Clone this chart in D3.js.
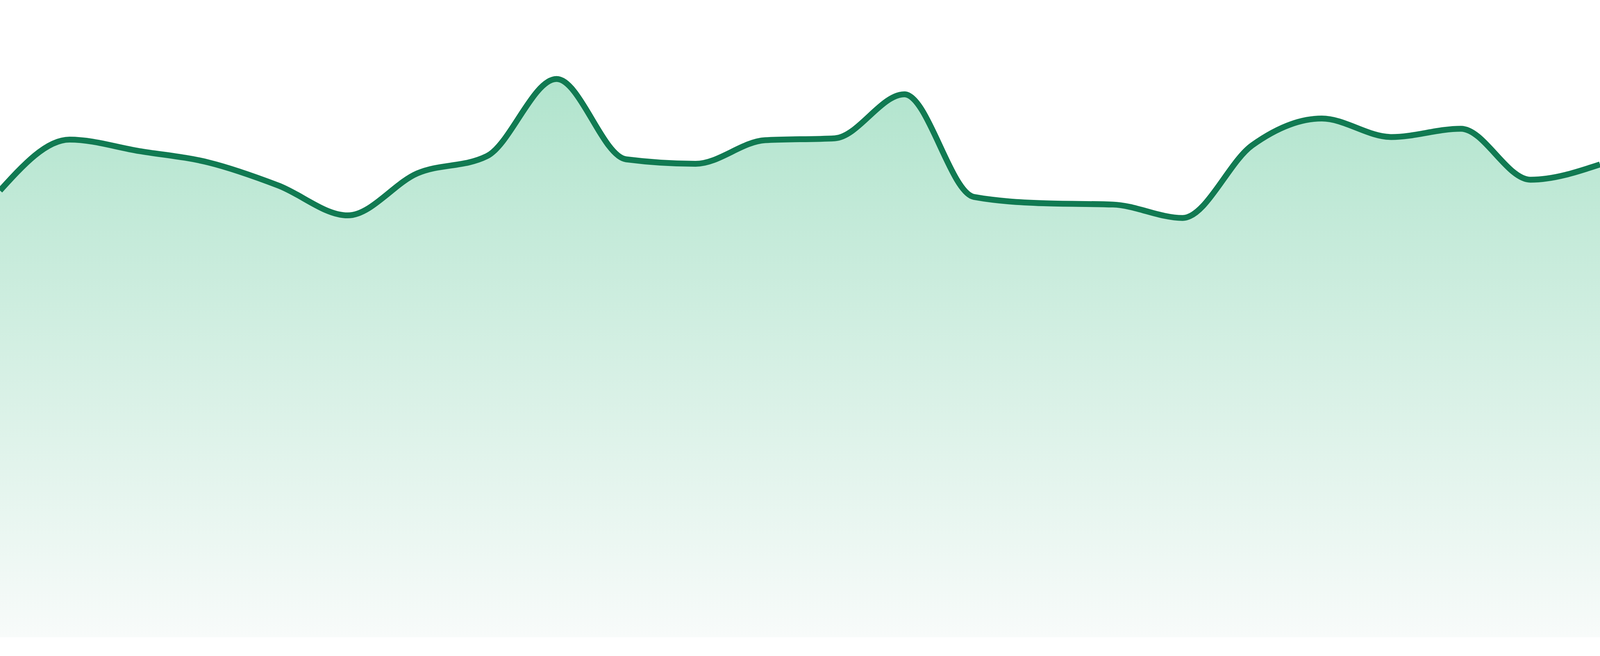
<!DOCTYPE html>
<html>
<head>
<meta charset="utf-8">
<script src="https://cdn.jsdelivr.net/npm/d3@7"></script>
<style>
  html, body { margin: 0; padding: 0; background: #ffffff; overflow: hidden; width: 100%; height: 100%; }
  svg { display: block; }
</style>
</head>
<body>
<svg id="chart"></svg>
<script>
// ---- data ----
const categories = ["1","2","3","4","5","6","7","8","9","10","11","12",
                    "13","14","15","16","17","18","19","20","21","22","23","24"];
const values = [70.1, 78.1, 76.3, 74.5, 70.9, 66.2, 72.8, 75.5, 87.6, 75.0, 74.3, 78.0,
                78.3, 85.2, 69.1, 68.1, 67.9, 65.8, 77.2, 81.4, 78.5, 79.8, 71.8, 74.2];
const yDomain = [0, 100];

// ---- layout (fills the viewport) ----
const W = window.innerWidth || 4800;
const H = window.innerHeight || 1680;
const bottom = H * (1632 / 1680);

const svg = d3.select("#chart").attr("width", W).attr("height", H);
const x = d3.scalePoint().domain(categories).range([0, W]);
const y = d3.scaleLinear().domain(yDomain).range([bottom, 0]);

const data = categories.map((c, i) => ({ c, v: values[i] }));

const defs = svg.append("defs");
const grad = defs.append("linearGradient")
  .attr("id", "fillGrad")
  .attr("gradientUnits", "userSpaceOnUse")
  .attr("x1", 0).attr("x2", 0)
  .attr("y1", y(d3.max(values))).attr("y2", bottom);
grad.append("stop").attr("offset", 0).attr("stop-color", "#b1e4cd");
grad.append("stop").attr("offset", 1).attr("stop-color", "#f8fbfa");

const area = d3.area()
  .x(d => x(d.c))
  .y0(bottom)
  .y1(d => y(d.v))
  .curve(d3.curveMonotoneX);

const line = d3.line()
  .x(d => x(d.c))
  .y(d => y(d.v))
  .curve(d3.curveMonotoneX);

svg.append("path")
  .datum(data)
  .attr("d", area)
  .attr("fill", "url(#fillGrad)");

svg.append("path")
  .datum(data)
  .attr("d", line)
  .attr("fill", "none")
  .attr("stroke", "#117a52")
  .attr("stroke-width", 15)
  .attr("stroke-linejoin", "round");
</script>
</body>
</html>
